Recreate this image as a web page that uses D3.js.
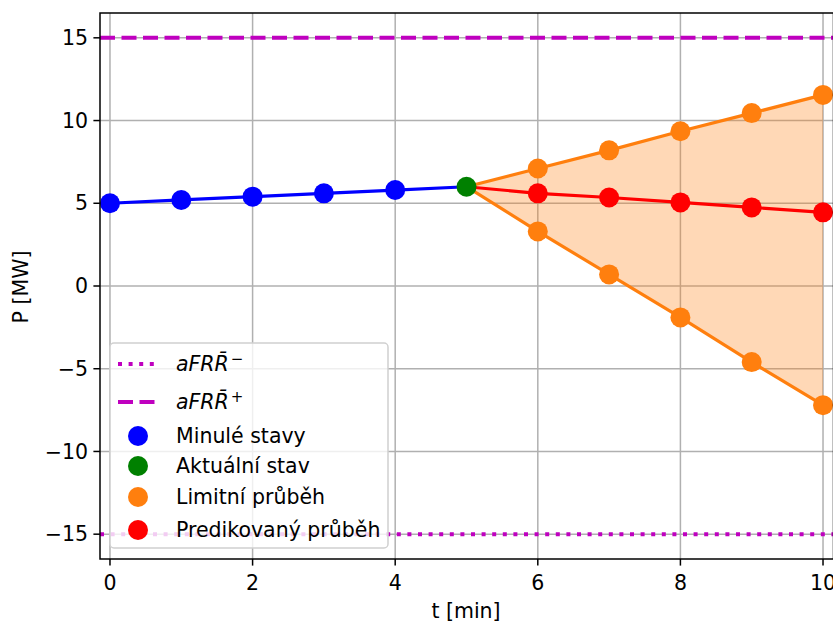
<script src='https://d3js.org/d3.v7.min.js'></script>
<body style="margin:0;background:#fff">
<script>
  // data
  const pastT = [0, 1, 2, 3, 4];
  const pastP = [5.0, 5.2, 5.4, 5.6, 5.8];
  const nowT = 5;
  const nowP = 6.0;
  const futT = [6, 7, 8, 9, 10];
  const upperP = [7.1, 8.2, 9.35, 10.45, 11.55];
  const lowerP = [3.3, 0.7, -1.9, -4.6, -7.2];
  const predP = [5.6, 5.35, 5.05, 4.75, 4.45];
  const aFRRplus = 15;
  const aFRRminus = -15;
  const xTicks = [0, 2, 4, 6, 8, 10];
  const yTicks = [-15, -10, -5, 0, 5, 10, 15];

  const width = 833, height = 623;
  const mLeft = 100, mTop = 13, mBottom = 559;
  const font = "DejaVu Sans, sans-serif";
  const fs = 20.5;

  var x = d3.scaleLinear().domain([-0.14, 10.14]).range([mLeft, 833]);
  var y = d3.scaleLinear().domain([-16.5, 16.5]).range([mBottom, mTop]);

  var svg = d3.select("body").append("svg")
    .attr("width", width).attr("height", height)
    .style("font-family", font);

  svg.append("defs").append("clipPath").attr("id", "clip")
    .append("rect").attr("x", mLeft).attr("y", mTop)
    .attr("width", 833 - mLeft).attr("height", mBottom - mTop);

  // grid
  svg.append("g").selectAll("line").data(xTicks).enter().append("line")
    .attr("x1", d => x(d)).attr("x2", d => x(d))
    .attr("y1", mTop).attr("y2", mBottom)
    .attr("stroke", "#b0b0b0").attr("stroke-width", 1.5);
  svg.append("g").selectAll("line").data(yTicks).enter().append("line")
    .attr("x1", mLeft).attr("x2", 833)
    .attr("y1", d => y(d)).attr("y2", d => y(d))
    .attr("stroke", "#b0b0b0").attr("stroke-width", 1.5);

  var plot = svg.append("g").attr("clip-path", "url(#clip)");

  // fill between limits
  var band = [{t: nowT, lo: nowP, hi: nowP}].concat(futT.map((t, i) => ({t: t, lo: lowerP[i], hi: upperP[i]})));
  plot.append("path").datum(band)
    .attr("d", d3.area().x(d => x(d.t)).y0(d => y(d.lo)).y1(d => y(d.hi)))
    .attr("fill", "#ff7f0e").attr("fill-opacity", 0.3);

  var line = d3.line().x(d => x(d[0])).y(d => y(d[1]));

  // limits
  plot.append("line").attr("x1", mLeft).attr("x2", 833)
    .attr("y1", y(aFRRminus)).attr("y2", y(aFRRminus))
    .attr("stroke", "#bf00bf").attr("stroke-width", 4).attr("stroke-dasharray", "4,6.6");
  plot.append("line").attr("x1", mLeft).attr("x2", 833)
    .attr("y1", y(aFRRplus)).attr("y2", y(aFRRplus))
    .attr("stroke", "#bf00bf").attr("stroke-width", 4).attr("stroke-dasharray", "15,6.5");

  var past = pastT.map((t, i) => [t, pastP[i]]).concat([[nowT, nowP]]);
  var up = [[nowT, nowP]].concat(futT.map((t, i) => [t, upperP[i]]));
  var lo = [[nowT, nowP]].concat(futT.map((t, i) => [t, lowerP[i]]));
  var pr = [[nowT, nowP]].concat(futT.map((t, i) => [t, predP[i]]));

  plot.append("path").datum(past).attr("d", line).attr("fill", "none").attr("stroke", "#0000ff").attr("stroke-width", 3.2);
  plot.append("path").datum(up).attr("d", line).attr("fill", "none").attr("stroke", "#ff7f0e").attr("stroke-width", 3.2);
  plot.append("path").datum(lo).attr("d", line).attr("fill", "none").attr("stroke", "#ff7f0e").attr("stroke-width", 3.2);
  plot.append("path").datum(pr).attr("d", line).attr("fill", "none").attr("stroke", "#ff0000").attr("stroke-width", 3.2);

  const r = 10;
  function dots(ts, ps, color) {
    plot.append("g").selectAll("circle").data(ts).enter().append("circle")
      .attr("cx", d => x(d)).attr("cy", (d, i) => y(ps[i])).attr("r", r).attr("fill", color);
  }
  dots(pastT, pastP, "#0000ff");
  dots([nowT], [nowP], "#008000");
  dots(futT, upperP, "#ff7f0e");
  dots(futT, lowerP, "#ff7f0e");
  dots(futT, predP, "#ff0000");

  // spines
  svg.append("rect").attr("x", mLeft).attr("y", mTop).attr("width", 833 - mLeft + 0.5).attr("height", mBottom - mTop)
    .attr("fill", "none").attr("stroke", "#000").attr("stroke-width", 1.5);

  // ticks
  var xt = svg.append("g").selectAll("g").data(xTicks).enter().append("g")
    .attr("transform", d => "translate(" + x(d) + "," + mBottom + ")");
  xt.append("line").attr("y2", 6.6).attr("stroke", "#000").attr("stroke-width", 1.5);
  xt.append("text").attr("y", 31).attr("text-anchor", "middle").attr("font-size", fs)
    .text(d => d);

  var yt = svg.append("g").selectAll("g").data(yTicks).enter().append("g")
    .attr("transform", d => "translate(" + mLeft + "," + y(d) + ")");
  yt.append("line").attr("x2", -6.6).attr("stroke", "#000").attr("stroke-width", 1.5);
  yt.append("text").attr("x", -12).attr("dy", "0.35em").attr("text-anchor", "end").attr("font-size", fs)
    .text(d => d < 0 ? "\u2212" + Math.abs(d) : d);

  svg.append("text").attr("x", 466).attr("y", 618).attr("text-anchor", "middle").attr("font-size", fs).text("t [min]");
  svg.append("text").attr("transform", "translate(28,287) rotate(-90)").attr("text-anchor", "middle")
    .attr("font-size", fs).text("P [MW]");

  // legend
  var lg = svg.append("g");
  lg.append("rect").attr("x", 110).attr("y", 343).attr("width", 278).attr("height", 205).attr("rx", 4)
    .attr("fill", "#fff").attr("fill-opacity", 0.8).attr("stroke", "#d0d0d0").attr("stroke-width", 1.5);

  const legendItems = [
    {type: "line", dash: "4,6.6", cy: 364, sup: "\u2212"},
    {type: "line", dash: "15,6.5", cy: 402, sup: "+"},
    {type: "dot", color: "#0000ff", cy: 436, label: "Minulé stavy"},
    {type: "dot", color: "#008000", cy: 466, label: "Aktuální stav"},
    {type: "dot", color: "#ff7f0e", cy: 497, label: "Limitní průběh"},
    {type: "dot", color: "#ff0000", cy: 530, label: "Predikovaný průběh"}
  ];
  legendItems.forEach(function(it) {
    if (it.type == "line") {
      lg.append("line").attr("x1", 118).attr("x2", 156).attr("y1", it.cy).attr("y2", it.cy)
        .attr("stroke", "#bf00bf").attr("stroke-width", 4).attr("stroke-dasharray", it.dash);
      var t = lg.append("text").attr("x", 176).attr("y", it.cy).attr("dy", "0.35em")
        .attr("font-size", fs).attr("font-style", "italic");
      t.append("tspan").text("aFR");
      t.append("tspan").text("R\u0304");
      t.append("tspan").attr("dy", "-0.45em").attr("dx", "2").attr("font-size", 15).attr("font-style", "normal").text(it.sup);
    } else {
      lg.append("circle").attr("cx", 138).attr("cy", it.cy).attr("r", r).attr("fill", it.color);
      lg.append("text").attr("x", 176).attr("y", it.cy).attr("dy", "0.35em").attr("font-size", fs).text(it.label);
    }
  });
</script>
</body>
